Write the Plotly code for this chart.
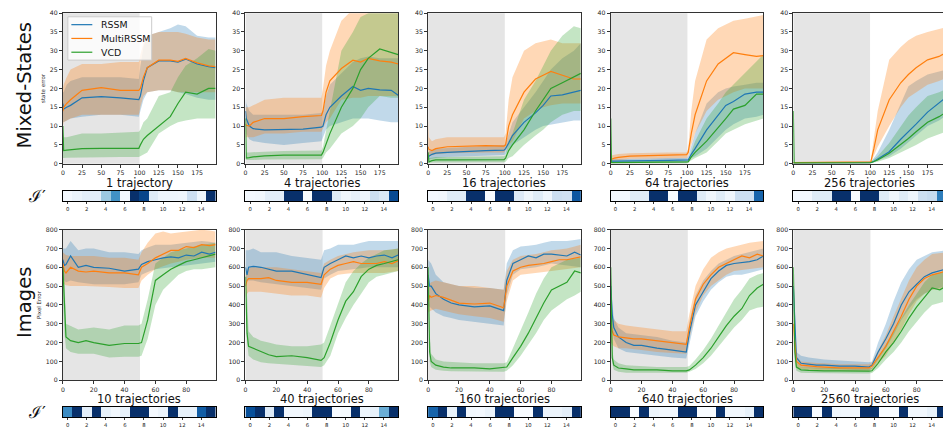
import plotly.graph_objects as go

W, H = 943, 439

METHODS = ["RSSM", "MultiRSSM", "VCD"]
COLORS = ["#1f77b4", "#ff7f0e", "#2ca02c"]
FILLS = ["rgba(31,119,180,0.28)", "rgba(255,127,14,0.3)", "rgba(44,160,44,0.28)"]

TOP_TITLES = ["1 trajectory", "4 trajectories", "16 trajectories", "64 trajectories", "256 trajectories"]
BOT_TITLES = ["10 trajectories", "40 trajectories", "160 trajectories", "640 trajectories", "2560 trajectories"]

X_TOP = [0, 1, 5, 10, 25, 50, 75, 99, 101, 105, 110, 125, 140, 150, 160, 175, 190, 199]
X_BOT = [0, 1, 2, 5, 10, 15, 20, 30, 40, 49, 51, 55, 60, 65, 70, 75, 80, 85, 90, 95, 99]
TOP_XTICKS = [0, 25, 50, 75, 100, 125, 150, 175]
BOT_XTICKS = [0, 20, 40, 60, 80]
TOP_YTICKS = [0, 5, 10, 15, 20, 25, 30, 35, 40]
BOT_YTICKS = [0, 100, 200, 300, 400, 500, 600, 700, 800]
TOP_SHADE = [0, 100]
BOT_SHADE = [0, 50]

HEAT_IDX = list(range(16))
HEAT_TICKS = [0, 2, 4, 6, 8, 10, 12, 14]

# ---------------- top row: state error ----------------
T1_RSSM = [16, 14.5, 15, 15.5, 17.5, 17.8, 17.5, 17, 18, 22, 25.5, 27.3, 27.3, 27, 27.8, 26.5, 25.8, 25.5]
T1_RSSM_LO = [11, 11, 11.5, 12, 12.5, 13, 13, 12.5, 14, 17, 19, 19.5, 19.5, 19, 18.5, 17.5, 17, 17]
T1_RSSM_HI = [19, 19, 21, 22, 23, 23, 23, 22.5, 26, 31, 34, 35, 36, 37, 36.5, 34, 33.5, 33.5]
T1_MR = [14, 15, 16, 17, 19.5, 20.2, 19.5, 19.5, 20, 23, 25.5, 27.5, 27.5, 27.2, 28, 26.8, 26, 25.8]
T1_MR_LO = [10, 11, 11.5, 12, 13, 13, 13, 13, 15, 18, 19, 19.5, 19.5, 19, 19, 19, 19, 19]
T1_MR_HI = [20, 21, 23, 25, 26.5, 26.5, 27, 27, 29, 32, 34, 35, 35, 35, 34.5, 33.5, 33, 33]
T1_VCD = [10, 3.5, 3.6, 3.7, 4, 4.1, 4.1, 4.1, 5, 6.5, 7.5, 10, 12.5, 16, 19, 18.5, 20, 20]
T1_VCD_LO = [1.5, 1.5, 1.6, 1.7, 1.8, 1.8, 1.8, 1.8, 2, 2.5, 3, 8, 10, 11, 11.5, 12, 12, 12]
T1_VCD_HI = [8, 7, 7, 7.2, 8, 8, 8.2, 8.5, 9, 11, 12, 18, 19, 23, 26, 28, 30.5, 30]

T2_RSSM = [14, 12, 10, 9.3, 9, 9, 9.2, 9.7, 10, 13, 15, 18, 20.5, 19.5, 20, 19.6, 19.5, 18.2]
T2_RSSM_LO = [10, 8, 6.5, 6, 5.5, 5, 5.5, 6, 7, 9, 10, 11, 12, 12, 12, 11.5, 11, 11]
T2_RSSM_HI = [17.5, 16, 14, 13, 13, 13, 13, 13.5, 14, 18, 21, 24, 27, 28, 28.5, 28, 28, 28]
T2_MR = [10.5, 10.2, 10, 11, 12, 12, 12.5, 12.8, 14, 19, 22, 25.3, 27.5, 27, 28, 27.3, 27, 26.5]
T2_MR_LO = [7, 7, 7, 7, 8, 8, 8.5, 8.5, 9, 11, 12, 17, 17.5, 17.5, 18, 18, 18, 18]
T2_MR_HI = [15, 15, 15, 15.5, 17, 17.5, 17.5, 17.5, 20, 26, 30, 38, 41, 42, 42, 42, 42, 42]
T2_VCD = [12, 1.5, 1.6, 1.8, 2.1, 2.3, 2.3, 2.3, 3, 5.5, 8, 15, 20, 25, 28, 30.5, 29.5, 29]
T2_VCD_LO = [1, 1, 1, 1, 1.1, 1.2, 1.2, 1.2, 1.5, 3, 4, 8, 10, 12, 15, 18, 17.5, 17.5]
T2_VCD_HI = [15, 3, 3, 3, 3.2, 3.4, 3.5, 3.5, 4.5, 9, 14, 30, 35, 39, 40, 41, 40.5, 40]

T3_RSSM = [1.5, 2, 2.5, 2.8, 3, 3.3, 3.5, 3.6, 4, 5.5, 7.5, 11, 13.5, 15.5, 18, 18.3, 19, 19.5]
T3_RSSM_LO = [1, 1.2, 1.4, 1.5, 1.8, 2, 2.2, 2.3, 2.5, 4, 5, 7, 9, 10, 10.5, 11, 11.5, 11.5]
T3_RSSM_HI = [3, 3.2, 3.6, 4, 4.2, 4.5, 4.8, 5, 5.5, 8, 11, 15, 19, 22, 25, 28, 30, 32]
T3_MR = [4.5, 3.8, 3.5, 4, 4.5, 4.7, 4.8, 4.7, 5, 10, 13, 19, 22.5, 23.5, 24.5, 23.5, 22.5, 22.5]
T3_MR_LO = [2, 2.2, 2.3, 2.5, 2.8, 3, 3, 3, 3.5, 5, 6, 12, 14, 15, 15.5, 16, 16, 16]
T3_MR_HI = [12, 7, 6, 6.5, 7, 7, 7, 7, 8, 17, 23, 30, 32, 32.5, 33, 32, 32, 32]
T3_VCD = [3, 0.5, 0.8, 1, 1, 1, 1.1, 1.1, 1.5, 3.5, 5, 9, 14, 17, 20, 21.5, 23, 24]
T3_VCD_LO = [0.2, 0.2, 0.3, 0.3, 0.3, 0.4, 0.4, 0.4, 0.5, 1.5, 2, 5, 7.5, 9, 11, 13, 14, 14]
T3_VCD_HI = [4, 1.5, 1.6, 1.8, 1.8, 1.9, 2, 2, 2.5, 6, 8, 17, 22, 26, 30, 34, 36.5, 36]

T4_RSSM = [0.8, 0.7, 0.7, 0.7, 0.8, 0.8, 0.9, 0.9, 1, 2.5, 4, 9, 13, 15.5, 16.5, 18.5, 19, 19]
T4_RSSM_LO = [0.3, 0.3, 0.3, 0.3, 0.3, 0.4, 0.4, 0.4, 0.5, 1.5, 2, 4, 7, 9, 10.5, 12, 12.5, 13]
T4_RSSM_HI = [1.2, 1.2, 1.2, 1.3, 1.3, 1.4, 1.5, 1.5, 2, 5, 8, 16, 19, 20, 20.5, 21, 21.5, 21.5]
T4_MR = [1, 1.2, 1.5, 1.7, 2, 2.1, 2.2, 2.4, 3, 8, 13, 22, 26.5, 28, 29.5, 29, 28.5, 28.7]
T4_MR_LO = [0.5, 0.7, 0.9, 1, 1.3, 1.4, 1.5, 1.5, 2, 5, 8, 14, 17, 18, 19, 20, 20, 20]
T4_MR_HI = [2, 2.2, 2.4, 2.6, 2.8, 3, 3, 3, 4, 14, 22, 33, 36, 37, 38, 38.5, 39, 39.5]
T4_VCD = [12, 0.3, 0.3, 0.3, 0.3, 0.3, 0.3, 0.3, 0.5, 1.8, 3, 6, 9.5, 12, 14.5, 15.5, 18.5, 18.5]
T4_VCD_LO = [0.1, 0.1, 0.1, 0.1, 0.1, 0.1, 0.1, 0.1, 0.2, 0.8, 1.5, 3, 6, 8, 9, 10.5, 11.5, 12]
T4_VCD_HI = [0.7, 0.7, 0.7, 0.7, 0.7, 0.8, 0.8, 0.8, 1, 3.5, 6, 12, 16, 19, 21, 24, 27, 29]

T5_RSSM = [0.2, 0.2, 0.2, 0.2, 0.2, 0.2, 0.2, 0.2, 0.3, 0.6, 1.2, 3.2, 6.5, 8.4, 10.5, 13.7, 16, 17.6]
T5_RSSM_LO = [0.1, 0.1, 0.1, 0.1, 0.1, 0.1, 0.1, 0.1, 0.2, 0.4, 0.8, 2, 4, 5.8, 7.5, 10, 11.5, 12.8]
T5_RSSM_HI = [0.3, 0.3, 0.3, 0.3, 0.3, 0.4, 0.4, 0.4, 0.5, 1.5, 3, 9, 16, 20.6, 22, 23.7, 24.5, 25]
T5_MR = [0.3, 0.3, 0.3, 0.3, 0.3, 0.3, 0.3, 0.3, 0.5, 4, 9, 17, 21.5, 23.7, 25.5, 27.6, 28.5, 29.5]
T5_MR_LO = [0.1, 0.1, 0.1, 0.1, 0.1, 0.1, 0.1, 0.1, 0.2, 2, 4.5, 10, 15, 17.6, 19, 21, 22, 22.8]
T5_MR_HI = [0.4, 0.4, 0.4, 0.4, 0.4, 0.4, 0.4, 0.4, 1, 7, 14, 27.6, 31, 32.8, 34, 35, 35.8, 36.3]
T5_VCD = [14, 0.2, 0.2, 0.2, 0.2, 0.2, 0.2, 0.2, 0.3, 0.6, 1, 2.8, 5, 6.7, 8.5, 11, 12.5, 13.7]
T5_VCD_LO = [0.1, 0.1, 0.1, 0.1, 0.1, 0.1, 0.1, 0.1, 0.1, 0.3, 0.5, 1.5, 3, 4, 5, 6.7, 7.8, 8.5]
T5_VCD_HI = [0.3, 0.3, 0.3, 0.3, 0.3, 0.3, 0.3, 0.3, 0.5, 1.2, 2, 5.5, 10, 12.8, 15, 18, 19, 19.8]

# ---------------- bottom row: pixel error ----------------
B1_RSSM = [640, 610, 615, 660, 600, 610, 600, 595, 580, 590, 615, 630, 640, 650, 655, 650, 665, 660, 680, 670, 680]
B1_RSSM_LO = [540, 530, 520, 530, 520, 515, 510, 510, 510, 520, 560, 575, 590, 595, 600, 605, 610, 615, 620, 625, 630]
B1_RSSM_HI = [700, 700, 700, 740, 690, 700, 700, 680, 680, 670, 690, 705, 720, 720, 720, 725, 730, 735, 740, 735, 730]
B1_MR = [620, 580, 570, 600, 580, 575, 580, 570, 570, 560, 600, 620, 650, 670, 690, 690, 710, 705, 720, 715, 720]
B1_MR_LO = [520, 510, 505, 500, 500, 500, 500, 495, 490, 490, 530, 560, 590, 605, 620, 630, 640, 645, 650, 650, 650]
B1_MR_HI = [680, 670, 665, 660, 660, 660, 660, 650, 650, 640, 680, 730, 780, 790, 780, 785, 790, 795, 800, 795, 790]
B1_VCD = [600, 400, 230, 210, 200, 210, 200, 185, 195, 195, 200, 320, 530, 560, 590, 610, 630, 640, 650, 660, 670]
B1_VCD_LO = [450, 250, 170, 150, 140, 140, 140, 120, 125, 125, 130, 220, 400, 480, 520, 560, 580, 590, 590, 595, 600]
B1_VCD_HI = [650, 550, 300, 290, 270, 275, 280, 270, 290, 290, 300, 430, 620, 650, 680, 690, 700, 710, 720, 725, 730]

B2_RSSM = [600, 560, 600, 605, 600, 590, 580, 580, 560, 545, 600, 620, 640, 660, 650, 660, 650, 660, 665, 650, 665]
B2_RSSM_LO = [520, 530, 530, 530, 520, 515, 510, 500, 490, 480, 540, 560, 580, 585, 590, 595, 600, 600, 600, 600, 600]
B2_RSSM_HI = [690, 690, 690, 700, 680, 680, 680, 660, 650, 640, 690, 700, 720, 720, 720, 730, 740, 740, 740, 740, 740]
B2_MR = [500, 530, 540, 540, 540, 545, 530, 520, 520, 510, 560, 590, 610, 620, 630, 620, 620, 620, 630, 620, 635]
B2_MR_LO = [440, 460, 470, 470, 470, 465, 460, 450, 450, 440, 490, 540, 560, 565, 570, 570, 570, 570, 570, 575, 580]
B2_MR_HI = [570, 590, 600, 600, 600, 600, 600, 590, 580, 570, 620, 640, 660, 670, 680, 685, 690, 690, 690, 695, 700]
B2_VCD = [550, 250, 180, 170, 150, 135, 125, 130, 120, 105, 120, 200, 320, 420, 470, 550, 590, 610, 620, 630, 640]
B2_VCD_LO = [400, 200, 130, 110, 95, 90, 85, 80, 75, 70, 80, 130, 250, 330, 400, 460, 520, 550, 560, 570, 580]
B2_VCD_HI = [640, 400, 260, 230, 210, 200, 190, 180, 180, 190, 200, 290, 410, 520, 580, 620, 650, 670, 690, 695, 700]

B3_RSSM = [560, 500, 500, 460, 430, 410, 400, 390, 395, 370, 530, 620, 640, 660, 650, 670, 670, 665, 660, 680, 665]
B3_RSSM_LO = [400, 390, 380, 360, 340, 330, 320, 310, 300, 290, 450, 560, 590, 595, 600, 610, 620, 615, 610, 605, 600]
B3_RSSM_HI = [640, 630, 620, 560, 520, 510, 500, 490, 490, 480, 620, 690, 710, 715, 720, 730, 740, 740, 740, 745, 750]
B3_MR = [420, 450, 440, 450, 440, 425, 410, 405, 410, 385, 500, 580, 600, 610, 615, 620, 630, 640, 640, 650, 655]
B3_MR_LO = [360, 365, 370, 380, 370, 360, 350, 340, 330, 310, 420, 530, 560, 565, 570, 575, 580, 585, 590, 595, 600]
B3_MR_HI = [480, 510, 520, 530, 520, 510, 500, 500, 490, 480, 580, 640, 660, 665, 670, 680, 690, 695, 700, 710, 720]
B3_VCD = [600, 150, 100, 80, 70, 65, 65, 65, 60, 65, 70, 120, 180, 250, 330, 410, 480, 500, 520, 580, 570]
B3_VCD_LO = [450, 100, 70, 55, 50, 48, 45, 45, 45, 45, 50, 80, 130, 190, 250, 320, 370, 400, 430, 450, 470]
B3_VCD_HI = [650, 250, 140, 110, 100, 98, 95, 90, 90, 90, 95, 170, 260, 360, 460, 540, 600, 620, 640, 645, 650]

B4_RSSM = [500, 350, 280, 230, 200, 185, 185, 170, 160, 150, 250, 400, 470, 540, 580, 610, 620, 625, 630, 640, 660]
B4_RSSM_LO = [400, 280, 220, 170, 150, 145, 140, 130, 120, 115, 200, 340, 420, 480, 520, 550, 560, 560, 570, 580, 590]
B4_RSSM_HI = [600, 420, 330, 280, 250, 245, 240, 230, 210, 200, 310, 450, 530, 580, 620, 640, 660, 670, 680, 690, 700]
B4_MR = [300, 260, 240, 230, 225, 220, 220, 210, 200, 190, 280, 430, 510, 560, 600, 620, 640, 660, 650, 670, 660]
B4_MR_LO = [200, 190, 180, 170, 170, 165, 160, 150, 145, 140, 220, 360, 450, 500, 530, 560, 580, 585, 590, 595, 600]
B4_MR_HI = [350, 330, 320, 300, 290, 285, 280, 270, 260, 260, 350, 500, 590, 650, 680, 700, 710, 720, 730, 735, 740]
B4_VCD = [600, 120, 80, 65, 60, 55, 55, 55, 50, 50, 55, 80, 120, 170, 230, 290, 340, 380, 450, 490, 510]
B4_VCD_LO = [450, 90, 55, 45, 40, 40, 40, 40, 40, 40, 45, 60, 90, 130, 180, 230, 280, 320, 370, 385, 390]
B4_VCD_HI = [650, 160, 110, 90, 80, 78, 75, 70, 70, 70, 75, 110, 160, 220, 290, 360, 430, 480, 540, 560, 570]

B5_RSSM = [500, 250, 120, 90, 85, 80, 80, 75, 75, 70, 80, 150, 220, 300, 400, 470, 510, 550, 570, 580, 590]
B5_RSSM_LO = [400, 180, 90, 70, 65, 62, 60, 60, 55, 55, 60, 110, 170, 240, 320, 380, 430, 460, 480, 490, 500]
B5_RSSM_HI = [600, 320, 150, 130, 120, 115, 110, 105, 100, 95, 100, 200, 300, 420, 520, 590, 640, 660, 680, 685, 690]
B5_MR = [300, 200, 100, 80, 75, 72, 70, 65, 65, 65, 75, 120, 180, 260, 340, 430, 500, 540, 560, 570, 580]
B5_MR_LO = [200, 140, 70, 60, 55, 52, 50, 50, 50, 50, 55, 90, 130, 200, 270, 350, 420, 460, 480, 485, 490]
B5_MR_HI = [400, 260, 130, 100, 95, 92, 90, 85, 85, 85, 95, 160, 240, 340, 440, 530, 600, 640, 670, 675, 680]
B5_VCD = [600, 150, 70, 55, 52, 50, 50, 50, 48, 48, 50, 90, 150, 200, 260, 330, 390, 440, 490, 480, 500]
B5_VCD_LO = [450, 100, 50, 40, 38, 38, 38, 36, 36, 36, 38, 65, 110, 150, 200, 260, 310, 360, 400, 410, 420]
B5_VCD_HI = [650, 200, 90, 70, 68, 66, 65, 65, 62, 62, 65, 120, 190, 260, 330, 400, 460, 520, 560, 570, 580]

# ---------------- I' strips (Blues intensity 0..1) ----------------
HT1 = [0.02, 0.06, 0.1, 0.1, 0.38, 0.63, 0.02, 1.0, 0.92, 0.12, 0.05, 0.05, 0.04, 0.22, 0.05, 1.0]
HT2 = [0.02, 0.03, 0.1, 0.1, 1.0, 1.0, 0.0, 1.0, 1.0, 0.12, 0.04, 0.08, 0.04, 0.22, 0.15, 0.9]
HT3 = [0.02, 0.03, 0.12, 0.12, 1.0, 1.0, 0.0, 1.0, 1.0, 0.13, 0.04, 0.12, 0.04, 0.22, 0.2, 0.85]
HT4 = [0.02, 0.02, 0.12, 0.12, 1.0, 1.0, 0.0, 1.0, 1.0, 0.12, 0.04, 0.12, 0.04, 0.22, 0.22, 0.8]
HT5 = [0.02, 0.02, 0.12, 0.12, 1.0, 1.0, 0.0, 1.0, 1.0, 0.12, 0.04, 0.12, 0.05, 0.22, 0.25, 0.7]
HB1 = [0.65, 1.0, 0.1, 1.0, 0.08, 0.03, 0.08, 1.0, 1.0, 0.02, 0.06, 1.0, 0.08, 0.08, 0.83, 1.0]
HB2 = [0.88, 1.0, 0.13, 1.0, 0.03, 0.03, 0.05, 1.0, 1.0, 0.0, 0.01, 1.0, 0.05, 0.08, 0.5, 1.0]
HB3 = [0.8, 1.0, 0.08, 1.0, 0.03, 0.02, 0.06, 1.0, 1.0, 0.0, 0.0, 1.0, 0.06, 0.06, 0.1, 1.0]
HB4 = [1.0, 1.0, 0.0, 1.0, 0.05, 0.03, 0.03, 1.0, 1.0, 0.0, 0.0, 1.0, 0.03, 0.03, 0.08, 1.0]
HB5 = [1.0, 1.0, 0.0, 1.0, 0.04, 0.03, 0.03, 1.0, 1.0, 0.0, 0.0, 1.0, 0.03, 0.03, 0.08, 1.0]

TOP_SERIES = [
    [(T1_RSSM, T1_RSSM_LO, T1_RSSM_HI), (T1_MR, T1_MR_LO, T1_MR_HI), (T1_VCD, T1_VCD_LO, T1_VCD_HI)],
    [(T2_RSSM, T2_RSSM_LO, T2_RSSM_HI), (T2_MR, T2_MR_LO, T2_MR_HI), (T2_VCD, T2_VCD_LO, T2_VCD_HI)],
    [(T3_RSSM, T3_RSSM_LO, T3_RSSM_HI), (T3_MR, T3_MR_LO, T3_MR_HI), (T3_VCD, T3_VCD_LO, T3_VCD_HI)],
    [(T4_RSSM, T4_RSSM_LO, T4_RSSM_HI), (T4_MR, T4_MR_LO, T4_MR_HI), (T4_VCD, T4_VCD_LO, T4_VCD_HI)],
    [(T5_RSSM, T5_RSSM_LO, T5_RSSM_HI), (T5_MR, T5_MR_LO, T5_MR_HI), (T5_VCD, T5_VCD_LO, T5_VCD_HI)],
]
BOT_SERIES = [
    [(B1_RSSM, B1_RSSM_LO, B1_RSSM_HI), (B1_MR, B1_MR_LO, B1_MR_HI), (B1_VCD, B1_VCD_LO, B1_VCD_HI)],
    [(B2_RSSM, B2_RSSM_LO, B2_RSSM_HI), (B2_MR, B2_MR_LO, B2_MR_HI), (B2_VCD, B2_VCD_LO, B2_VCD_HI)],
    [(B3_RSSM, B3_RSSM_LO, B3_RSSM_HI), (B3_MR, B3_MR_LO, B3_MR_HI), (B3_VCD, B3_VCD_LO, B3_VCD_HI)],
    [(B4_RSSM, B4_RSSM_LO, B4_RSSM_HI), (B4_MR, B4_MR_LO, B4_MR_HI), (B4_VCD, B4_VCD_LO, B4_VCD_HI)],
    [(B5_RSSM, B5_RSSM_LO, B5_RSSM_HI), (B5_MR, B5_MR_LO, B5_MR_HI), (B5_VCD, B5_VCD_LO, B5_VCD_HI)],
]
TOP_HEAT = [HT1, HT2, HT3, HT4, HT5]
BOT_HEAT = [HB1, HB2, HB3, HB4, HB5]

# ---------------- layout geometry (pixels) ----------------
COL_LEFT = [61, 244, 427, 610, 793]
PANEL_W = 153
ROW_AX = [(9.3, 162.3), (229.3, 382.3)]
ROW_STRIP = [(190, 200.5), (409.5, 420)]
ROW_TITLE_Y = [181.5, 401]
LEGEND_BOX = (66, 13, 150, 57)
LEGEND_ROWS = [21, 35, 49]
FONT = "DejaVu Sans"
SPINE = "#333333"

fig = go.Figure()
layout = {}
shapes = []
annotations = []


def ax_name(i, kind):
    return kind if i == 1 else f"{kind}{i}"


def px(x):
    return x / W


def py(y):
    return 1 - y / H


for r in range(2):
    X = X_TOP if r == 0 else X_BOT
    xmax = X[-1]
    series_rows = TOP_SERIES if r == 0 else BOT_SERIES
    heats = TOP_HEAT if r == 0 else BOT_HEAT
    titles = TOP_TITLES if r == 0 else BOT_TITLES
    shade = TOP_SHADE if r == 0 else BOT_SHADE
    for c in range(5):
        left = COL_LEFT[c]
        right = min(left + PANEL_W, W)
        frac = (right - left) / PANEL_W
        xd = [px(left), px(right)]
        i = r * 5 + c + 1
        j = 10 + r * 5 + c + 1
        t, b = ROW_AX[r]
        st, sb = ROW_STRIP[r]
        last = c == 4

        layout[f"xaxis{i}"] = dict(
            domain=xd, range=[0, xmax * frac], anchor=ax_name(i, "y"),
            tickvals=TOP_XTICKS if r == 0 else BOT_XTICKS,
            showline=True, mirror=True, linecolor=SPINE, linewidth=1,
            ticks="outside", ticklen=3, tickwidth=0.8, tickcolor=SPINE,
            showgrid=False, zeroline=False,
            tickfont=dict(family=FONT, size=6.2, color="#222"),
        )
        layout[f"yaxis{i}"] = dict(
            domain=[py(b), py(t)], range=[0, 40] if r == 0 else [0, 800],
            anchor=ax_name(i, "x"),
            tickvals=TOP_YTICKS if r == 0 else BOT_YTICKS,
            showline=True, mirror=not last, linecolor=SPINE, linewidth=1,
            ticks="outside", ticklen=3, tickwidth=0.8, tickcolor=SPINE,
            showgrid=False, zeroline=False,
            tickfont=dict(family=FONT, size=6.2, color="#222"),
        )
        if c == 0:
            layout[f"yaxis{i}"]["title"] = dict(
                text="state error" if r == 0 else "Pixel Error",
                font=dict(family=FONT, size=5.5, color="#222"), standoff=3,
            )

        shapes.append(dict(
            type="rect", xref=ax_name(i, "x"), yref=ax_name(i, "y") + " domain",
            x0=shade[0], x1=shade[1], y0=0, y1=1,
            fillcolor="#e5e5e5", line=dict(width=0), layer="below",
        ))

        for k, (m, lo, hi) in enumerate(series_rows[c]):
            fig.add_trace(go.Scatter(
                x=list(X) + list(X)[::-1], y=list(hi) + list(lo)[::-1],
                fill="toself", fillcolor=FILLS[k], line=dict(width=0),
                mode="lines", hoverinfo="skip", showlegend=False,
                xaxis=ax_name(i, "x"), yaxis=ax_name(i, "y"),
            ))
        for k, (m, lo, hi) in enumerate(series_rows[c]):
            fig.add_trace(go.Scatter(
                x=X, y=m, mode="lines", name=METHODS[k],
                line=dict(color=COLORS[k], width=1.2),
                showlegend=False,
                xaxis=ax_name(i, "x"), yaxis=ax_name(i, "y"),
            ))

        annotations.append(dict(
            text=titles[c], x=px(left + PANEL_W / 2), y=py(ROW_TITLE_Y[r]),
            xref="paper", yref="paper", showarrow=False, xanchor="center", yanchor="middle",
            font=dict(family=FONT, size=11.5, color="#111"),
        ))

        layout[f"xaxis{j}"] = dict(
            domain=xd, range=[-0.5, -0.5 + 16 * frac], anchor=ax_name(j, "y"),
            tickvals=HEAT_TICKS, showline=True, mirror=True, linecolor="#000", linewidth=1,
            ticks="outside", ticklen=2, tickwidth=0.6, tickcolor="#333",
            showgrid=False, zeroline=False,
            tickfont=dict(family=FONT, size=5.3, color="#222"),
        )
        layout[f"yaxis{j}"] = dict(
            domain=[py(sb), py(st)], range=[-0.5, 0.5], anchor=ax_name(j, "x"),
            showticklabels=False, ticks="", showline=True, mirror=not last,
            linecolor="#000", linewidth=1, showgrid=False, zeroline=False,
        )
        fig.add_trace(go.Heatmap(
            z=[heats[c]], x=HEAT_IDX, y=[0], colorscale="Blues", zmin=0, zmax=1,
            showscale=False, hoverinfo="skip",
            xaxis=ax_name(j, "x"), yaxis=ax_name(j, "y"),
        ))

    annotations.append(dict(
        text="Mixed-States" if r == 0 else "Images", x=px(23),
        y=py((ROW_AX[r][0] + ROW_AX[r][1]) / 2 - 3),
        xref="paper", yref="paper", showarrow=False, textangle=-90,
        xanchor="center", yanchor="middle",
        font=dict(family=FONT, size=19.5, color="#111"),
    ))
    annotations.append(dict(
        text="ℐ′", x=px(35), y=py((ROW_STRIP[r][0] + ROW_STRIP[r][1]) / 2),
        xref="paper", yref="paper", showarrow=False, xanchor="center", yanchor="middle",
        font=dict(family="DejaVu Serif", size=17, color="#111"),
    ))

# compact legend inside the first panel (matplotlib-style)
lx0, ly0, lx1, ly1 = LEGEND_BOX
shapes.append(dict(
    type="rect", xref="paper", yref="paper", x0=px(lx0), x1=px(lx1), y0=py(ly1), y1=py(ly0),
    fillcolor="rgba(255,255,255,0.8)", line=dict(color="#cccccc", width=1), layer="above",
))
for k, ry in enumerate(LEGEND_ROWS):
    shapes.append(dict(
        type="line", xref="paper", yref="paper", x0=px(lx0 + 3.5), x1=px(lx0 + 24.5),
        y0=py(ry), y1=py(ry), line=dict(color=COLORS[k], width=1.2), layer="above",
    ))
    annotations.append(dict(
        text=METHODS[k], x=px(lx0 + 31), y=py(ry), xref="paper", yref="paper",
        showarrow=False, xanchor="left", yanchor="middle",
        font=dict(family=FONT, size=9.4, color="#111"),
    ))

fig.update_layout(
    width=W, height=H, margin=dict(l=0, r=0, t=0, b=0),
    paper_bgcolor="white", plot_bgcolor="white",
    shapes=shapes, annotations=annotations, showlegend=False,
    **layout,
)

fig.write_html(
    "out.html",
    config={"displayModeBar": False},
    post_script="document.body.style.margin='0px';document.body.style.overflow='hidden';",
)
